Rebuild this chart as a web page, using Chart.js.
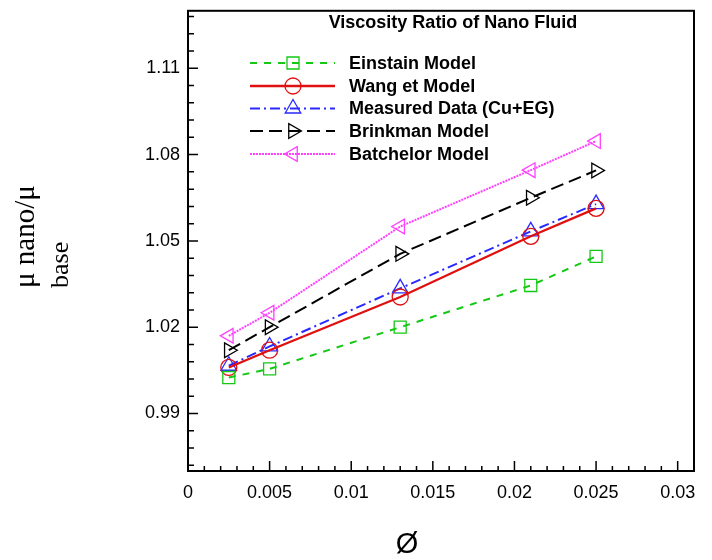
<!DOCTYPE html>
<html>
<head>
<meta charset="utf-8">
<script src="https://cdn.jsdelivr.net/npm/chart.js@4/dist/chart.umd.min.js"></script>
<style>
  body { margin: 0; background: #fff; }
</style>
</head>
<body>
<canvas id="chart" width="712" height="560"></canvas>
<script>
// volume fraction (x) values
const phiValues = [0.0025, 0.005, 0.013, 0.021, 0.025];

// viscosity ratio for each model
const einstainModel = [1.0025, 1.0055, 1.0200, 1.0345, 1.0446];
const wangModel     = [1.0060, 1.0120, 1.0305, 1.0516, 1.0613];
const measuredData  = [1.0066, 1.0133, 1.0335, 1.0533, 1.0628];
const brinkmanModel = [1.0120, 1.0200, 1.0455, 1.0650, 1.0745];
const batchelorModel = [1.0170, 1.0250, 1.0550, 1.0746, 1.0847];

const seriesNames = ['Einstain Model', 'Wang et Model', 'Measured Data (Cu+EG)', 'Brinkman Model', 'Batchelor Model'];

// tick labels
const xTickValues = [0, 0.005, 0.01, 0.015, 0.02, 0.025, 0.03];
const yTickValues = [0.99, 1.02, 1.05, 1.08, 1.11];

const FONT = "'Liberation Sans', Arial, sans-serif";

// builds {x, y} points from the phi array
function toPoints(values) {
  return values.map((v, i) => ({ x: phiValues[i], y: v }));
}

const datasets = [
  { label: seriesNames[0], data: toPoints(einstainModel), borderColor: '#14c814', borderDash: [7, 7],
    pointStyle: 'rect', pointRadius: 8.5, pointRotation: 0, borderWidth: 2 },
  { label: seriesNames[1], data: toPoints(wangModel), borderColor: '#e01010', borderDash: [],
    pointStyle: 'circle', pointRadius: 8, pointRotation: 0, borderWidth: 2.3 },
  { label: seriesNames[2], data: toPoints(measuredData), borderColor: '#2a2aff', borderDash: [10, 4, 2, 4],
    pointStyle: 'triangle', pointRadius: 9, pointRotation: 0, borderWidth: 2 },
  { label: seriesNames[3], data: toPoints(brinkmanModel), borderColor: '#000000', borderDash: [13, 6],
    pointStyle: 'triangle', pointRadius: 8.5, pointRotation: 90, borderWidth: 2 },
  { label: seriesNames[4], data: toPoints(batchelorModel), borderColor: '#ff40ff', borderDash: [2, 1],
    pointStyle: 'triangle', pointRadius: 8.5, pointRotation: -90, borderWidth: 2 }
].map(d => Object.assign(d, {
  pointBorderColor: d.borderColor,
  pointBackgroundColor: 'rgba(0,0,0,0)',
  pointBorderWidth: 1.3,
  pointHoverRadius: d.pointRadius,
  fill: false,
  tension: 0
}));

// frame, inward ticks, minor ticks, titles and legend (Tecplot look)
const decorPlugin = {
  id: 'decor',
  afterDraw(chart) {
    const ctx = chart.ctx;
    const area = chart.chartArea;
    const xs = chart.scales.x;
    const ys = chart.scales.y;
    ctx.save();
    ctx.strokeStyle = '#000';

    // frame
    ctx.lineWidth = 2;
    ctx.strokeRect(area.left, area.top, area.right - area.left, area.bottom - area.top);

    // ticks
    ctx.lineWidth = 1.5;
    ctx.beginPath();
    for (let i = 0; i <= 30; i++) {
      const px = xs.getPixelForValue(i * 0.001);
      const len = (i % 5 === 0) ? 10 : 5;
      ctx.moveTo(px, area.bottom);
      ctx.lineTo(px, area.bottom - len);
    }
    for (let i = 0; i <= 26; i++) {
      const py = ys.getPixelForValue(0.972 + i * 0.006);
      const len = ((i - 3) % 5 === 0) ? 10 : 6;
      ctx.moveTo(area.left, py);
      ctx.lineTo(area.left + len, py);
    }
    ctx.stroke();

    // chart title
    ctx.fillStyle = '#000';
    ctx.font = 'bold 18px ' + FONT;
    ctx.textAlign = 'center';
    ctx.textBaseline = 'middle';
    ctx.fillText('Viscosity Ratio of Nano Fluid', 453, 23);

    // legend
    const legendY = [63, 86, 108.5, 131, 154];
    chart.data.datasets.forEach((ds, i) => {
      const y = legendY[i];
      ctx.strokeStyle = ds.borderColor;
      ctx.lineWidth = ds.borderWidth;
      ctx.setLineDash(ds.borderDash);
      ctx.beginPath();
      ctx.moveTo(250, y);
      ctx.lineTo(335, y);
      ctx.stroke();
      ctx.setLineDash([]);
      ctx.fillStyle = 'rgba(0,0,0,0)';
      ctx.lineWidth = ds.pointBorderWidth;
      Chart.helpers.drawPoint(ctx, {
        pointStyle: ds.pointStyle,
        rotation: ds.pointRotation,
        radius: ds.pointRadius,
        borderWidth: ds.pointBorderWidth
      }, 293, y);
      ctx.fillStyle = '#000';
      ctx.font = 'bold 18px ' + FONT;
      ctx.textAlign = 'left';
      ctx.textBaseline = 'middle';
      ctx.fillText(ds.label, 349, y + 1);
    });

    // x axis title
    ctx.fillStyle = '#000';
    ctx.font = '29px ' + FONT;
    ctx.textAlign = 'center';
    ctx.textBaseline = 'middle';
    ctx.fillText('\u00D8', 407, 545);

    // y axis title, rotated, with subscript
    ctx.save();
    ctx.translate(34, 288);
    ctx.rotate(-Math.PI / 2);
    ctx.font = "29px 'Liberation Serif', 'Times New Roman', serif";
    ctx.textAlign = 'left';
    ctx.textBaseline = 'alphabetic';
    ctx.fillText('\u03BC nano/\u03BC', 0, 0);
    ctx.restore();
    ctx.save();
    ctx.translate(68, 288);
    ctx.rotate(-Math.PI / 2);
    ctx.font = "26px 'Liberation Serif', 'Times New Roman', serif";
    ctx.textAlign = 'left';
    ctx.textBaseline = 'alphabetic';
    ctx.fillText('base', 0, 0);
    ctx.restore();

    ctx.restore();
  }
};

new Chart(document.getElementById('chart'), {
  type: 'line',
  data: { datasets: datasets },
  options: {
    responsive: false,
    animation: false,
    layout: { padding: { top: 0, right: 18, left: 0, bottom: 0 } },
    plugins: {
      legend: { display: false },
      tooltip: { enabled: false },
      title: { display: false }
    },
    scales: {
      x: {
        type: 'linear',
        min: 0,
        max: 0.031,
        grid: { display: false },
        border: { display: false },
        afterBuildTicks: s => { s.ticks = xTickValues.map(v => ({ value: v })); },
        afterFit: s => { s.height = 89; },
        ticks: {
          padding: 3,
          color: '#000',
          maxRotation: 0,
          autoSkip: false,
          font: { family: FONT, size: 18 },
          callback: v => String(v)
        }
      },
      y: {
        type: 'linear',
        min: 0.97,
        max: 1.13,
        grid: { display: false },
        border: { display: false },
        afterBuildTicks: s => { s.ticks = yTickValues.map(v => ({ value: v })); },
        afterFit: s => { s.width = 188; },
        ticks: {
          padding: 0,
          color: '#000',
          autoSkip: false,
          font: { family: FONT, size: 18 },
          callback: v => v.toFixed(2)
        }
      }
    }
  },
  plugins: [decorPlugin]
});
</script>
</body>
</html>
